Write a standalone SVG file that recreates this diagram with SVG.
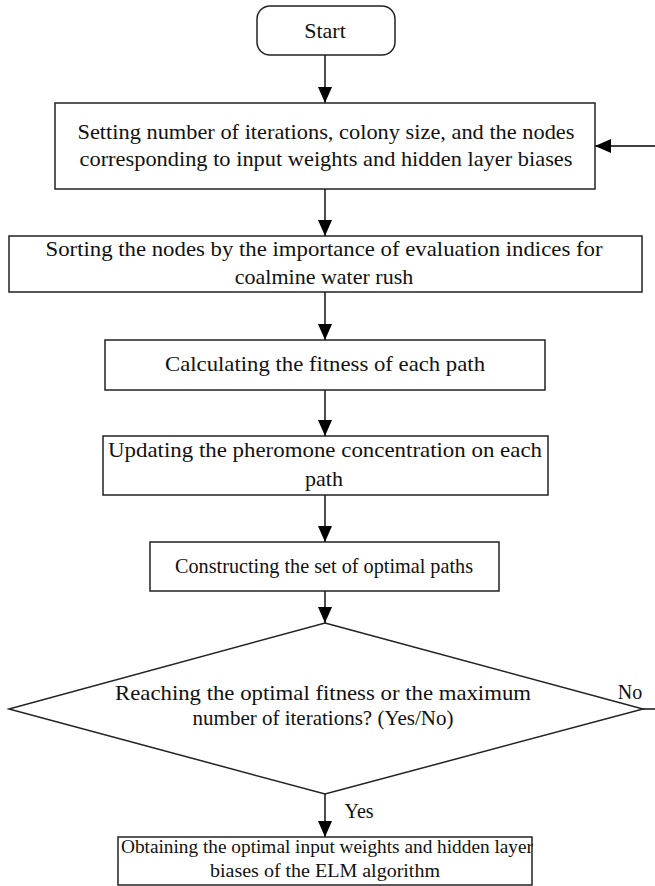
<svg xmlns="http://www.w3.org/2000/svg" width="655" height="886" viewBox="0 0 655 886">
<style>
.box{fill:#fff;stroke:#222;stroke-width:1.5}
.ln{stroke:#000;stroke-width:1.4;fill:none}
text{font-family:"Liberation Serif","Times New Roman",serif;fill:#111;text-anchor:middle;font-size:22px}
.dt{font-size:21px}
</style>
<defs>
<marker id="ah" markerWidth="16" markerHeight="14" refX="16" refY="7" orient="auto" markerUnits="userSpaceOnUse">
<path d="M0,0 L16,7 L0,14 Z" fill="#000"/>
</marker>
</defs>
<rect width="655" height="886" fill="#fff"/>
<g id="connectors">
<line class="ln" x1="325" y1="55" x2="325" y2="103" marker-end="url(#ah)"/>
<line class="ln" x1="325" y1="189" x2="325" y2="236" marker-end="url(#ah)"/>
<line class="ln" x1="325" y1="292" x2="325" y2="340" marker-end="url(#ah)"/>
<line class="ln" x1="325" y1="390" x2="325" y2="436" marker-end="url(#ah)"/>
<line class="ln" x1="325" y1="495" x2="325" y2="542" marker-end="url(#ah)"/>
<line class="ln" x1="325" y1="591" x2="325" y2="623" marker-end="url(#ah)"/>
<line class="ln" x1="325" y1="794" x2="325" y2="837" marker-end="url(#ah)"/>
<line class="ln" x1="655" y1="146" x2="595" y2="146" marker-end="url(#ah)"/>
<line class="ln" x1="643" y1="709" x2="655" y2="709"/>
<text x="359" y="818" style="font-size:20px">Yes</text>
<text x="630" y="699" style="font-size:20px">No</text>
</g>
<g id="start">
<rect class="box" x="257" y="6" width="138" height="49" rx="13"/>
<text x="325" y="38">Start</text>
</g>
<g id="setting">
<rect class="box" x="55" y="103" width="540" height="86"/>
<text x="326" y="139" textLength="497" lengthAdjust="spacingAndGlyphs">Setting number of iterations, colony size, and the nodes</text>
<text x="326" y="166" textLength="493" lengthAdjust="spacingAndGlyphs">corresponding to input weights and hidden layer biases</text>
</g>
<g id="sorting">
<rect class="box" x="9" y="236" width="633" height="56"/>
<text x="324" y="256" textLength="557" lengthAdjust="spacingAndGlyphs">Sorting the nodes by the importance of evaluation indices for</text>
<text x="324" y="284">coalmine water rush</text>
</g>
<g id="calculating">
<rect class="box" x="105" y="340" width="440" height="50"/>
<text x="325" y="371" textLength="320" lengthAdjust="spacingAndGlyphs">Calculating the fitness of each path</text>
</g>
<g id="updating">
<rect class="box" x="103" y="436" width="445" height="59"/>
<text x="325" y="457" textLength="434" lengthAdjust="spacingAndGlyphs">Updating the pheromone concentration on each</text>
<text x="324" y="486">path</text>
</g>
<g id="constructing">
<rect class="box" x="150" y="542" width="349" height="49"/>
<text x="324" y="573" textLength="298" lengthAdjust="spacingAndGlyphs">Constructing the set of optimal paths</text>
</g>
<g id="decision">
<polygon class="box" points="325,623 643,709 325,794 9,709"/>
<text class="dt" x="323" y="700" textLength="416" lengthAdjust="spacingAndGlyphs">Reaching the optimal fitness or the maximum</text>
<text class="dt" x="323" y="725">number of iterations? (Yes/No)</text>
</g>
<g id="obtaining">
<rect class="box" x="118" y="837" width="414" height="48"/>
<text x="327" y="853" style="font-size:19px" textLength="412" lengthAdjust="spacingAndGlyphs">Obtaining the optimal input weights and hidden layer</text>
<text x="325" y="877" style="font-size:19px" textLength="230" lengthAdjust="spacingAndGlyphs">biases of the ELM algorithm</text>
</g>
</svg>
